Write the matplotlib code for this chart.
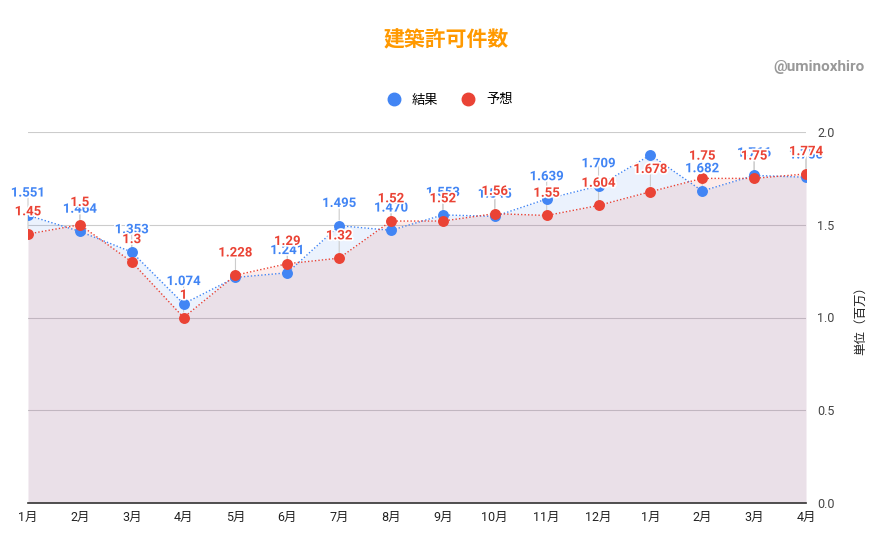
import matplotlib
matplotlib.use("Agg")
import matplotlib.pyplot as plt
import matplotlib.patheffects as pe
from matplotlib.lines import Line2D
import numpy as np

plt.rcParams['font.family'] = ['Roboto', 'Noto Sans CJK JP', 'DejaVu Sans']

months = ["1月", "2月", "3月", "4月", "5月", "6月", "7月", "8月", "9月", "10月",
          "11月", "12月", "1月", "2月", "3月", "4月"]
actual = [1.551, 1.464, 1.353, 1.074, 1.216, 1.241, 1.495, 1.470, 1.553, 1.545,
          1.639, 1.709, 1.876, 1.682, 1.766, 1.756]
forecast = [1.45, 1.5, 1.3, 1.0, 1.228, 1.29, 1.32, 1.52, 1.52, 1.56,
            1.55, 1.604, 1.678, 1.75, 1.75, 1.774]
actual_labels = ["1.551", "1.464", "1.353", "1.074", "", "1.241", "1.495", "1.470",
                 "1.553", "1.545", "1.639", "1.709", "", "1.682", "1.766", "1.756"]
forecast_labels = ["1.45", "1.5", "1.3", "1", "1.228", "1.29", "1.32", "1.52", "1.52",
                   "1.56", "1.55", "1.604", "1.678", "1.75", "1.75", "1.774"]
yticks = [0.0, 0.5, 1.0, 1.5, 2.0]

BLUE = "#4285F4"
RED = "#EA4335"

fig = plt.figure(figsize=(8.93, 5.52), dpi=100)
ax = fig.add_axes([28/893, 49/552, 778/893, 371/552])
x = np.arange(len(months))

ax.fill_between(x, 0, actual, color=BLUE, alpha=0.1, linewidth=0, zorder=1)
ax.fill_between(x, 0, forecast, color=RED, alpha=0.1, linewidth=0, zorder=1)
ax.plot(x, actual, color=BLUE, linestyle=(0, (1, 1.5)), linewidth=1, zorder=3)
ax.plot(x, forecast, color=RED, linestyle=(0, (1, 1.5)), linewidth=1, zorder=3)
ax.scatter(x, actual, s=62, color=BLUE, zorder=4, linewidths=0)
ax.scatter(x, forecast, s=62, color=RED, zorder=5, linewidths=0)

halo = [pe.withStroke(linewidth=2.5, foreground="white")]
for series, labels, col in ((actual, actual_labels, BLUE), (forecast, forecast_labels, RED)):
    for i, (v, lab) in enumerate(zip(series, labels)):
        if not lab:
            continue
        ax.annotate("", xy=(i, v), xytext=(0, 15), textcoords="offset points",
                    arrowprops=dict(arrowstyle="-", color="#cccccc", lw=0.8,
                                    shrinkA=0, shrinkB=4), zorder=2)
        ax.annotate(lab, xy=(i, v), xytext=(0, 16), textcoords="offset points",
                    ha="center", va="center", fontsize=9.5, fontweight="bold",
                    color=col, path_effects=halo, zorder=6, annotation_clip=False)

ax.set_xlim(0, len(months) - 1)
ax.set_ylim(0, 2.0)
ax.set_yticks(yticks)
ax.set_yticklabels([f"{t:.1f}" for t in yticks])
ax.yaxis.tick_right()
ax.yaxis.set_label_position("right")
ax.grid(axis="y", color="#cccccc", linewidth=0.8, zorder=0)
ax.set_axisbelow(True)
for s in ["top", "left", "right"]:
    ax.spines[s].set_visible(False)
ax.spines["bottom"].set_color("#333333")
ax.spines["bottom"].set_linewidth(1.2)
ax.tick_params(axis="y", length=0, pad=8, labelsize=9, labelcolor="#444444")
ax.tick_params(axis="x", length=0, pad=6, labelsize=9, labelcolor="#222222")
ax.set_xticks(x)
ax.set_xticklabels(months)
ax.set_ylabel("単位（百万）", fontsize=9, color="#222222", labelpad=14, rotation=90)

fig.text(0.5, 1 - 40/552, "建築許可件数", ha="center", va="center", fontsize=15,
         fontweight="bold", color="#FF9900")
fig.text(865/893, 1 - 67/552, "@uminoxhiro", ha="right", va="center", fontsize=11,
         fontweight="bold", color="#999999")

handles = [Line2D([], [], marker="o", linestyle="", color=BLUE, markersize=9),
           Line2D([], [], marker="o", linestyle="", color=RED, markersize=9)]
fig.legend(handles, ["結果", "予想"], loc="center", bbox_to_anchor=(0.5, 1 - 100/552),
           ncol=2, frameon=False, fontsize=9.5, handletextpad=0.4, columnspacing=1.2)

fig.savefig("out.png", dpi=100, facecolor="white")
